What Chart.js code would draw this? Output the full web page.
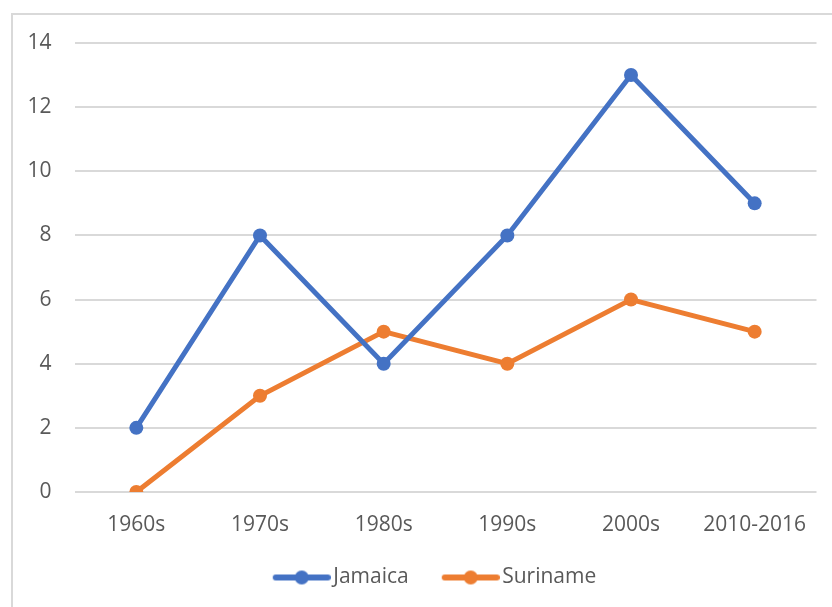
<!DOCTYPE html>
<html>
<head>
<meta charset="utf-8">
<script src="https://cdn.jsdelivr.net/npm/chart.js@4.4.1/dist/chart.umd.min.js"></script>
<style>
  html, body { margin: 0; padding: 0; background: #fff; overflow: hidden; }
  body { width: 832px; height: 607px; position: relative; }
  #frame {
    position: absolute; left: 11px; top: 13px;
    width: 840px; height: 600px;
    border: 2px solid #d9d9d9;
  }
  #chart { display: block; }
</style>
</head>
<body>
<div id="frame"><canvas id="chart" width="840" height="600"></canvas></div>
<script>
const categories = ["1960s", "1970s", "1980s", "1990s", "2000s", "2010-2016"];
const jamaica = [2, 8, 4, 8, 13, 9];
const suriname = [0, 3, 5, 4, 6, 5];
const yTicks = [0, 2, 4, 6, 8, 10, 12, 14];

const BLUE = "#4472c4";
const ORANGE = "#ed7d31";
const TEXT = "#595959";
const GRID = "#d9d9d9";
const FONT_SIZE = 21;

// legend icon: short line with a dot, like Excel.
// left part of the canvas is blank so the marker sits right before the text
function legendIcon(color) {
  const c = document.createElement("canvas");
  c.width = 72;
  c.height = 16;
  const g = c.getContext("2d");
  g.strokeStyle = color;
  g.lineWidth = 6;
  g.lineCap = "round";
  g.beginPath();
  g.moveTo(17, 8);
  g.lineTo(69, 8);
  g.stroke();
  g.fillStyle = color;
  g.beginPath();
  g.arc(43, 8, 7, 0, Math.PI * 2);
  g.fill();
  return c;
}

Chart.defaults.font.family = "'Open Sans', 'Liberation Sans', sans-serif";
Chart.defaults.color = TEXT;

const ctx = document.getElementById("chart").getContext("2d");
new Chart(ctx, {
  type: "line",
  data: {
    labels: categories,
    datasets: [
      {
        label: "Jamaica",
        data: jamaica,
        borderColor: BLUE,
        backgroundColor: BLUE,
        borderWidth: 5,
        pointRadius: 7,
        pointBorderWidth: 0,
        pointHoverRadius: 7,
        tension: 0,
      },
      {
        label: "Suriname",
        data: suriname,
        borderColor: ORANGE,
        backgroundColor: ORANGE,
        borderWidth: 5,
        pointRadius: 7,
        pointBorderWidth: 0,
        pointHoverRadius: 7,
        tension: 0,
      },
    ],
  },
  options: {
    responsive: false,
    animation: false,
    layout: { autoPadding: false, padding: { left: 0, right: 3, top: 28, bottom: 17 } },
    plugins: {
      tooltip: { enabled: false },
      legend: {
        position: "bottom",
        labels: {
          usePointStyle: true,
          pointStyleWidth: 56,
          padding: 27,
          font: { size: FONT_SIZE },
          color: TEXT,
          generateLabels: (chart) =>
            chart.data.datasets.map((ds, i) => ({
              text: ds.label,
              pointStyle: legendIcon(ds.borderColor),
              fillStyle: ds.borderColor,
              strokeStyle: ds.borderColor,
              lineWidth: 0,
              fontColor: TEXT,
              datasetIndex: i,
            })),
        },
      },
    },
    scales: {
      x: {
        offset: true,
        grid: { display: false },
        border: { display: false },
        ticks: { padding: 12, font: { size: FONT_SIZE }, color: TEXT, maxRotation: 0 },
        afterFit: (s) => { s.height = 48; },
      },
      y: {
        min: 0,
        max: 14,
        afterBuildTicks: (s) => { s.ticks = yTicks.map((v) => ({ value: v })); },
        grid: { color: GRID, lineWidth: 2, drawTicks: false },
        border: { display: false },
        ticks: { padding: 23, font: { size: FONT_SIZE }, color: TEXT },
        afterFit: (s) => {
          s.width = 61.5;
          // tick padding would otherwise push the plot top down
          s.paddingTop = 0;
          s.paddingBottom = 0;
        },
      },
      // empty right axis, only keeps the right margin of the plot
      yRight: {
        position: "right",
        grid: { display: false },
        border: { display: false },
        ticks: { display: false },
        afterFit: (s) => { s.width = 33.5; },
      },
    },
  },
});
</script>
</body>
</html>
